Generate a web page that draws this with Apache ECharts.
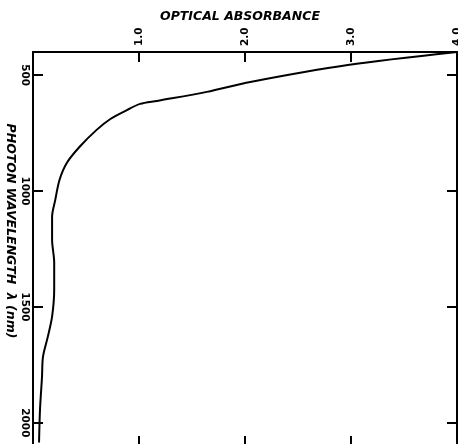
<!DOCTYPE html>
<html>
<head>
<meta charset="utf-8">
<script src="https://cdn.jsdelivr.net/npm/echarts@6/dist/echarts.min.js"></script>
<style>html,body{margin:0;padding:0;background:#fff}#c{width:458px;height:444px}</style>
</head>
<body>
<div id="c"></div>
<script>
// Data
const absorbance = [4.0, 2.97, 2.05, 1.64, 1.17, 1.01, 0.89, 0.73, 0.60, 0.44, 0.32, 0.25, 0.21, 0.18, 0.18, 0.20, 0.20, 0.18, 0.14, 0.094, 0.085, 0.066, 0.057];
const wavelength = [400, 456, 529, 572, 611, 624, 650, 689, 736, 809, 878, 952, 1038, 1111, 1210, 1309, 1426, 1542, 1628, 1715, 1801, 1943, 2085];
const absTicks = [1, 2, 3, 4];
const wlTicks = [500, 1000, 1500, 2000];

const FONT = '"DejaVu Sans", sans-serif';
const chart = echarts.init(document.getElementById('c'), null, {renderer: 'canvas'});
const axisLineStyle = {color: '#000', width: 2};
const xCommon = {
  type: 'value', min: 0, max: 4,
  axisLine: {show: true, onZero: false, lineStyle: axisLineStyle},
  axisTick: {show: true, inside: true, length: 10, customValues: absTicks, lineStyle: {color: '#000', width: 2}},
  splitLine: {show: false}
};
const yCommon = {
  type: 'value', min: 400, max: 2100, inverse: true,
  axisLine: {show: true, onZero: false, lineStyle: axisLineStyle},
  axisTick: {show: true, inside: true, length: 10, customValues: wlTicks, lineStyle: {color: '#000', width: 2}},
  splitLine: {show: false}
};
chart.setOption({
  animation: false,
  backgroundColor: '#fff',
  title: {
    text: 'OPTICAL ABSORBANCE', left: 155, top: 5,
    textStyle: {fontFamily: FONT, fontSize: 12.5, fontWeight: 'bold', fontStyle: 'italic', color: '#000'}
  },
  grid: {left: 33, top: 52, width: 424, height: 394, containLabel: false, outerBoundsMode: 'none'},
  xAxis: [
    Object.assign({}, xCommon, {
      position: 'top',
      axisLabel: {show: true, customValues: absTicks, rotate: -90, margin: 6,
        formatter: v => v.toFixed(1),
        fontFamily: FONT, fontSize: 10.5, fontWeight: 'bold', color: '#000'}
    }),
    Object.assign({}, xCommon, {position: 'bottom', axisLabel: {show: false}})
  ],
  yAxis: [
    Object.assign({}, yCommon, {
      position: 'left',
      name: 'PHOTON WAVELENGTH  λ (nm)', nameLocation: 'middle', nameGap: 16, nameRotate: -90,
      nameMoveOverlap: false,
      nameTextStyle: {fontFamily: FONT, fontSize: 12.5, fontWeight: 'bold', fontStyle: 'italic', color: '#000',
        padding: [0, 36, 0, 0]},
      axisLabel: {show: true, customValues: wlTicks, rotate: -90, margin: 3,
        formatter: v => String(v),
        fontFamily: FONT, fontSize: 10.5, fontWeight: 'bold', color: '#000'}
    }),
    Object.assign({}, yCommon, {position: 'right', axisLabel: {show: false}})
  ],
  series: [{
    type: 'line',
    xAxisIndex: 0, yAxisIndex: 0,
    data: absorbance.map((a, i) => [a, wavelength[i]]),
    smooth: 0.3,
    showSymbol: false,
    lineStyle: {color: '#000', width: 2}
  }]
});
</script>
</body>
</html>
